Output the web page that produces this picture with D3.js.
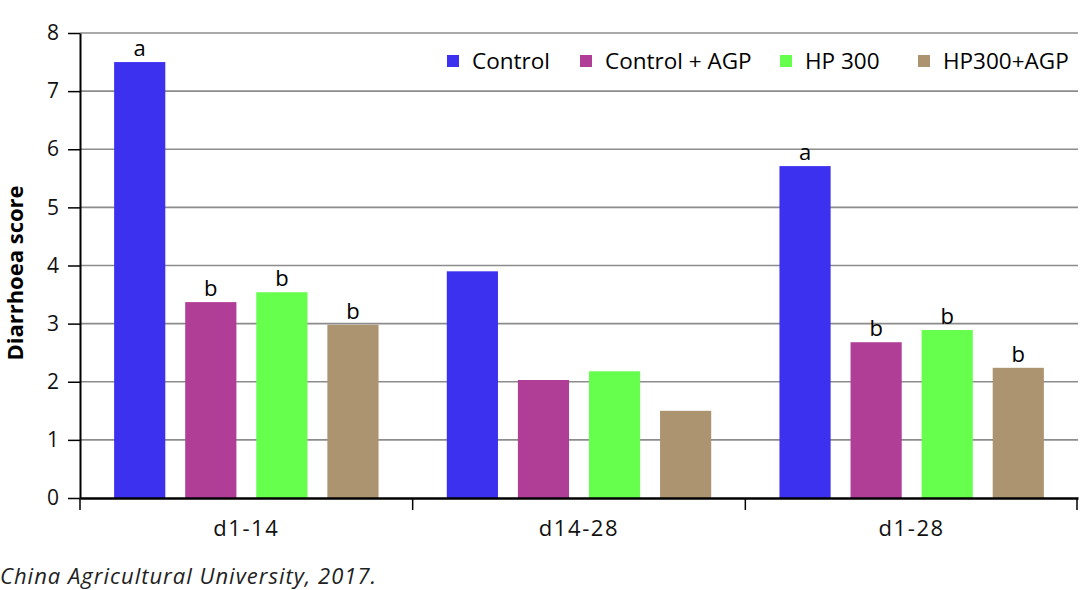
<!DOCTYPE html>
<html>
<head>
<meta charset="utf-8">
<script src="https://cdnjs.cloudflare.com/ajax/libs/d3/7.8.5/d3.min.js"></script>
<style>
  body { margin: 0; background: #fff; }
  text { font-family: "Open Sans", "Noto Sans", sans-serif; }
</style>
</head>
<body>
<div id="chart"></div>
<script>
// data
var periods = ["d1-14", "d14-28", "d1-28"];
var treatments = ["Control", "Control + AGP", "HP 300", "HP300+AGP"];
var control    = [7.5, 3.9, 5.71];
var controlAgp = [3.37, 2.03, 2.68];
var hp300      = [3.54, 2.18, 2.89];
var hp300Agp   = [2.98, 1.5, 2.24];
var letters = [["a", "b", "b", "b"], ["", "", "", ""], ["a", "b", "b", "b"]];
var yTicks = [0, 1, 2, 3, 4, 5, 6, 7, 8];

var colors = ["#3d31f0", "#b03e96", "#66ff4d", "#ad9470"];
var series = [control, controlAgp, hp300, hp300Agp];

var width = 1080, height = 590;
var margin = {top: 33, right: 2, bottom: 92, left: 80};

var svg = d3.select("#chart").append("svg")
    .attr("width", width)
    .attr("height", height);

var x0 = d3.scaleBand()
    .domain(periods)
    .range([margin.left, width - margin.right]);

var x1 = d3.scaleBand()
    .domain(treatments)
    .range([0, x0.bandwidth()])
    .paddingInner(0.28)
    .paddingOuter(0.48);

var y = d3.scaleLinear()
    .domain([0, 8])
    .range([height - margin.bottom, margin.top]);

// gridlines
svg.append("g")
  .selectAll("line")
  .data(yTicks.filter(function(d) { return d > 0; }))
  .enter().append("line")
    .attr("x1", margin.left)
    .attr("x2", width - margin.right)
    .attr("y1", function(d) { return y(d); })
    .attr("y2", function(d) { return y(d); })
    .attr("stroke", "#8c8c8c")
    .attr("stroke-width", 1.6);

// bars
var rows = [];
periods.forEach(function(p, i) {
  treatments.forEach(function(t, j) {
    rows.push({period: p, treatment: t, value: series[j][i], letter: letters[i][j], color: colors[j]});
  });
});

svg.append("g")
  .selectAll("rect")
  .data(rows)
  .enter().append("rect")
    .attr("x", function(d) { return x0(d.period) + x1(d.treatment); })
    .attr("y", function(d) { return y(d.value); })
    .attr("width", x1.bandwidth())
    .attr("height", function(d) { return y(0) - y(d.value); })
    .attr("fill", function(d) { return d.color; });

// significance letters
svg.append("g")
  .selectAll("text")
  .data(rows.filter(function(d) { return d.letter; }))
  .enter().append("text")
    .attr("x", function(d) { return x0(d.period) + x1(d.treatment) + x1.bandwidth() / 2; })
    .attr("y", function(d) { return y(d.value) - 6; })
    .attr("text-anchor", "middle")
    .style("font-size", "22px")
    .text(function(d) { return d.letter; });

// y axis
var yAxis = svg.append("g")
    .attr("transform", "translate(" + margin.left + ",0)")
    .call(d3.axisLeft(y).tickValues(yTicks).tickSize(12).tickPadding(9).tickSizeOuter(0));
yAxis.select(".domain").attr("stroke", "#000").attr("stroke-width", 2);
yAxis.selectAll(".tick line").attr("stroke", "#000").attr("stroke-width", 1.5);
yAxis.selectAll(".tick text")
    .style("font-size", "21px")
    .style("font-family", "'Open Sans', sans-serif")
    .attr("fill", "#111");

// x axis
var xAxis = svg.append("g")
    .attr("transform", "translate(0," + y(0) + ")")
    .call(d3.axisBottom(x0).tickSize(0).tickPadding(22));
xAxis.select(".domain").attr("stroke", "#000").attr("stroke-width", 2.5);
xAxis.selectAll(".tick text")
    .style("font-size", "22px")
    .style("letter-spacing", "1.6px")
    .style("font-family", "'Open Sans', sans-serif")
    .attr("fill", "#111");

// group separators below the axis
var seps = periods.map(function(p) { return x0(p); }).concat([x0.range()[1] - 1]);
svg.append("g")
  .selectAll("line")
  .data(seps)
  .enter().append("line")
    .attr("x1", function(d) { return d; })
    .attr("x2", function(d) { return d; })
    .attr("y1", y(0))
    .attr("y2", y(0) + 12)
    .attr("stroke", "#000")
    .attr("stroke-width", 1.5);

// y label
svg.append("text")
    .attr("transform", "translate(23,273) rotate(-90)")
    .attr("text-anchor", "middle")
    .style("font-size", "22px")
    .style("font-weight", "bold")
    .text("Diarrhoea score");

// legend
var legendX = [447, 580, 780, 918];
var legend = svg.append("g")
  .selectAll("g")
  .data(treatments)
  .enter().append("g")
    .attr("transform", function(d, i) { return "translate(" + legendX[i] + ",61)"; });
legend.append("rect")
    .attr("x", 0).attr("y", -6)
    .attr("width", 12).attr("height", 12)
    .attr("fill", function(d, i) { return colors[i]; });
legend.append("text")
    .attr("x", 25)
    .attr("dy", "0.35em")
    .style("font-size", "22.5px")
    .text(function(d) { return d; });

// caption
svg.append("text")
    .attr("x", 0)
    .attr("y", 584)
    .style("font-size", "22px")
    .style("letter-spacing", "1px")
    .style("font-style", "italic")
    .attr("fill", "#222")
    .text("China Agricultural University, 2017.");
</script>
</body>
</html>
